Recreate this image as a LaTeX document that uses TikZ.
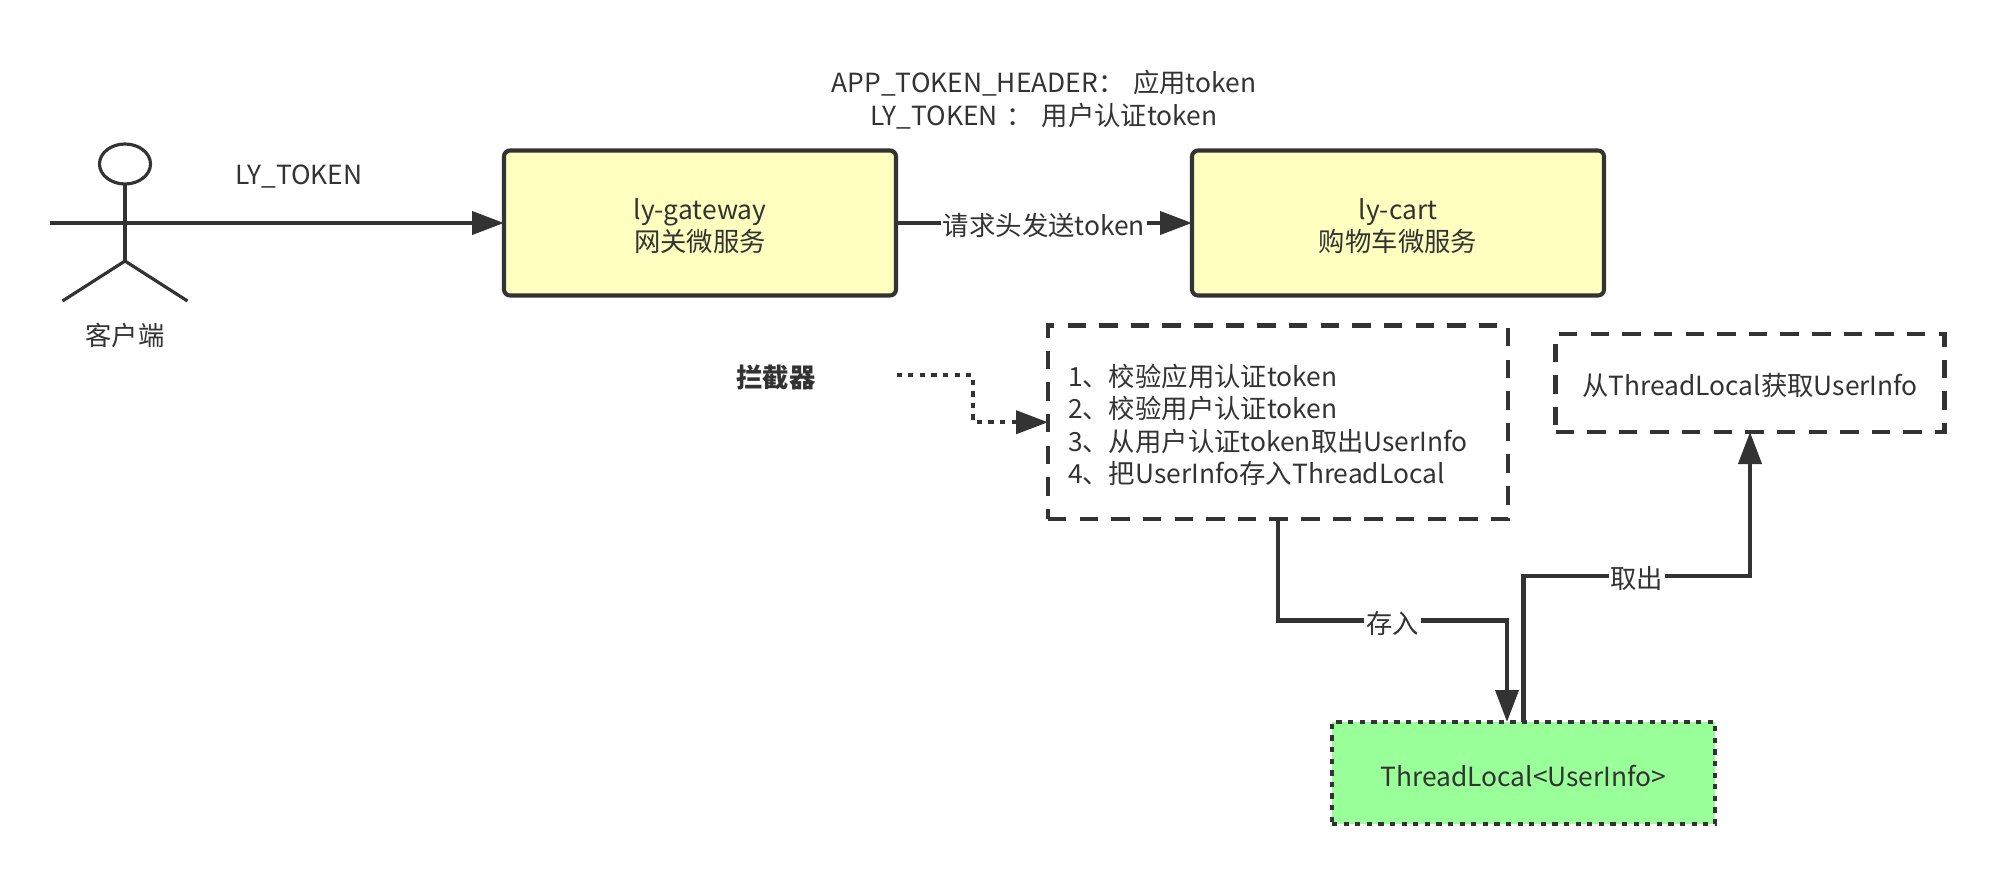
\documentclass[tikz,border=0pt]{standalone}
\usepackage{fontspec}
\setmainfont{Noto Sans CJK SC}
\usepackage{tikz}
\usetikzlibrary{shapes.geometric,arrows.meta}
\definecolor{inkgray}{HTML}{333333}
\definecolor{serviceyellow}{HTML}{FFFFC0}
\definecolor{localgreen}{HTML}{99FF99}

\begin{document}
\begin{tikzpicture}[scale=1,every node/.style={text=inkgray,font=\fontsize{15}{18.4}\selectfont,outer sep=0pt,execute at begin node={\rule{0pt}{15.6pt}}}]

	\tikzstyle{service}=[draw=inkgray,line width=2.3pt,rectangle,rounded corners=0.12cm,fill=serviceyellow,text width=6cm,align=center,minimum height=2.9cm]
	\tikzstyle{stepbox}=[draw=inkgray,line width=2.3pt,rectangle,dash pattern=on 10.5pt off 7.5pt,align=left]
	\tikzstyle{storebox}=[draw=inkgray,line width=2.3pt,rectangle,dash pattern=on 3pt off 3.6pt,fill=localgreen,minimum width=7.66cm,minimum height=2.04cm]
	\tikzstyle{flow}=[draw=inkgray,line width=2.3pt,-{Triangle[length=0.64cm,width=0.46cm]}]
	\tikzstyle{edgelabel}=[fill=white,inner sep=1pt]
	\tikzstyle{limb}=[draw=inkgray,line width=1.8pt]

	\useasboundingbox (0,0) rectangle (39.88,17.48);

	% actor
	\node[limb,ellipse,inner sep=0pt,minimum width=1.02cm,minimum height=0.8cm] (head) at (2.5,14.2) {};
	\coordinate (hip) at (2.5,12.26);
	\coordinate (footleft) at (1.25,11.46);
	\coordinate (footright) at (3.75,11.46);
	\coordinate (armleft) at (1,13.02);
	\draw[limb] (head.south)-- (hip);
	\draw[limb] (footleft)-- (hip)-- (footright);
	\node (client) at (2.5,10.82) {客户端};

	\node[service,minimum width=7.84cm] (gateway) at (14,13.02) {ly-gateway\\网关微服务};
	\node[service,minimum width=8.24cm] (cart) at (27.96,13.02) {ly-cart\\购物车微服务};

	\node (usertoken) at (5.98,14.02) {LY\_TOKEN};
	\node[text width=12cm,align=center] (headers) at (20.88,15.54) {APP\_TOKEN\_HEADER： 应用token\\LY\_TOKEN ： 用户认证token};

	\draw[flow] (armleft)-- (gateway.west);
	\draw[flow] (gateway.east)-- (cart.west) node[midway,edgelabel] (send) {请求头发送token};

	\node[font=\fontsize{15}{18.4}\selectfont\bfseries,minimum width=4.82cm] (interceptor) at (15.52,9.98) {拦截器};
	\node[stepbox,text width=8.4cm,inner xsep=0.4cm,minimum height=3.87cm] (steps) at (25.56,9.035) {1、校验应用认证token\\2、校验用户认证token\\3、从用户认证token取出UserInfo\\4、把UserInfo存入ThreadLocal};
	\node[stepbox,minimum width=7.78cm,minimum height=1.96cm] (fetch) at (35,9.82) {从ThreadLocal获取UserInfo};
	\node[storebox] (store) at (30.47,2.02) {ThreadLocal<UserInfo>};

	\draw[flow,dash pattern=on 3pt off 3.6pt] (interceptor.east)-- ++(1.53,0) |- (steps.west);

	\coordinate (storein) at (30.14,3.04);
	\draw[flow] (steps.south)-- (25.56,5.07)-- node[midway,edgelabel] (savelabel) {存入} (30.14,5.07)-- (storein);
	\draw[flow] (store.north)-- (30.47,5.96)-- node[midway,edgelabel] (loadlabel) {取出} (35,5.96)-- (fetch.south);

\end{tikzpicture}
\end{document}
